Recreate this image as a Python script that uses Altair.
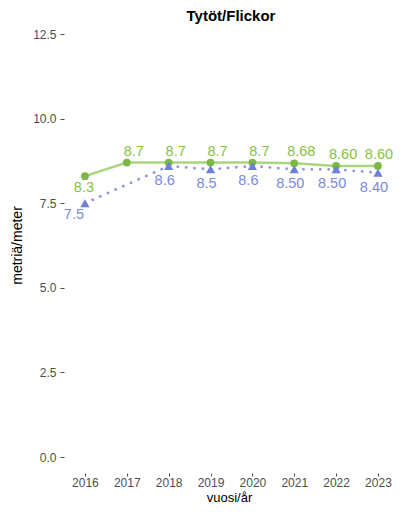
import altair as alt
import pandas as pd

years = [2016, 2017, 2018, 2019, 2020, 2021, 2022, 2023]
green_vals = [8.3, 8.7, 8.7, 8.7, 8.7, 8.68, 8.60, 8.60]
green_labels = ["8.3", "8.7", "8.7", "8.7", "8.7", "8.68", "8.60", "8.60"]
blue_years = [2016, 2018, 2019, 2020, 2021, 2022, 2023]
blue_vals = [7.5, 8.6, 8.5, 8.6, 8.50, 8.50, 8.40]
blue_labels = ["7.5", "8.6", "8.5", "8.6", "8.50", "8.50", "8.40"]
y_ticks = [0, 2.5, 5, 7.5, 10, 12.5]
title_text = ["Tytöt/Flickor"]

g = pd.DataFrame({"year": years, "val": green_vals, "lab": green_labels})
b = pd.DataFrame({"year": blue_years, "val": blue_vals, "lab": blue_labels})

G_LINE = "#a9d57c"
G_PT = "#7cb644"
G_TXT = "#86c240"
B_LINE = "#8d98e0"
B_PT = "#6d7fd6"
B_TXT = "#7b89d9"

xs = alt.X("year:Q", scale=alt.Scale(domain=[2015.5, 2023.383], nice=False, zero=False),
           axis=alt.Axis(values=years, format="d", title="vuosi/år", offset=16,
                         tickSize=3, tickColor="#4d4d4d", domain=False, grid=False,
                         labelFontSize=12, labelColor="#4d4d4d", labelPadding=1,
                         labelFont="Liberation Sans", titleFont="Liberation Sans",
                         titleFontSize=13, titleFontWeight="normal", titleColor="#000000",
                         titleY=28.5, titleBaseline="alphabetic"))
ys = alt.Y("val:Q", scale=alt.Scale(domain=[0, 12.5], nice=False),
           axis=alt.Axis(values=y_ticks, format=".1f", title="metriä/meter",
                         tickSize=4, tickColor="#4d4d4d", domain=False, grid=False,
                         labelFontSize=12, labelColor="#4d4d4d", labelPadding=4,
                         labelFont="Liberation Sans", titleFont="Liberation Sans",
                         titleFontSize=14, titleFontWeight="normal", titleColor="#000000",
                         titleX=-47, titleY=211, titleAngle=-90, titleAlign="center",
                         titleBaseline="middle"))

gbase = alt.Chart(g)
bbase = alt.Chart(b)

gline = gbase.mark_line(color=G_LINE, strokeWidth=2.5).encode(x=xs, y=ys)
gpt = gbase.mark_point(filled=True, shape="circle", color=G_PT, size=60, opacity=1).encode(x=xs, y=ys)
bline = bbase.mark_line(color=B_LINE, strokeWidth=2.8, strokeDash=[0.1, 8.3], strokeCap="round").encode(x=xs, y=ys)
bpt = bbase.mark_point(filled=True, shape="triangle-up", color=B_PT, size=85, opacity=1).encode(x=xs, y=ys)

tfont = dict(fontSize=14.5, font="Liberation Sans")
gtxt = gbase.transform_filter("datum.year > 2016 && datum.year < 2023").mark_text(
    color=G_TXT, dx=7, dy=-11, **tfont).encode(x=xs, y=ys, text="lab:N")
gtxt_end = gbase.transform_filter("datum.year == 2023").mark_text(
    color=G_TXT, dx=1, dy=-11, **tfont).encode(x=xs, y=ys, text="lab:N")
gtxt0 = gbase.transform_filter("datum.year == 2016").mark_text(
    color=G_TXT, dx=-1, dy=12, **tfont).encode(x=xs, y=ys, text="lab:N")
btxt = bbase.transform_filter("datum.year > 2016").mark_text(
    color=B_TXT, dx=-4, dy=15, **tfont).encode(x=xs, y=ys, text="lab:N")
btxt0 = bbase.transform_filter("datum.year == 2016").mark_text(
    color=B_TXT, dx=-11, dy=12, **tfont).encode(x=xs, y=ys, text="lab:N")

title = alt.Chart(pd.DataFrame({"t": title_text})).mark_text(
    fontSize=15, fontWeight="bold", font="Liberation Sans", color="#000000",
    baseline="alphabetic", align="center").encode(
    x=alt.value(167), y=alt.value(-13), text="t:N")

chart = alt.layer(gline, bline, gpt, bpt, gtxt, gtxt_end, gtxt0, btxt, btxt0, title).properties(
    width=330, height=423,
    autosize=alt.AutoSizeParams(type="none"),
    padding={"left": 56, "top": 26, "right": 0, "bottom": 47},
    background="white",
).configure_view(stroke=None)

chart.save("out.html", embed_options={"renderer": "svg", "actions": False})
